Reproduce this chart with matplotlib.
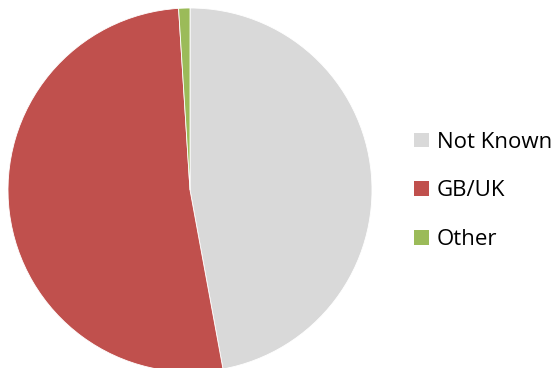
import matplotlib
matplotlib.use("Agg")
import matplotlib.pyplot as plt

labels = ["Not Known", "GB/UK", "Other"]
shares = [47.1, 51.9, 1.0]
colors = ["#D9D9D9", "#C0504D", "#9BBB59"]

W, H = 558, 368
fig = plt.figure(figsize=(W / 100, H / 100), dpi=100)
ax = fig.add_axes([0, 0, 1, 1])

wedges, _ = ax.pie(shares, colors=colors, startangle=90, counterclock=False,
                   center=(190, H - 190), radius=182, frame=True,
                   wedgeprops=dict(linewidth=0.6, edgecolor="white"))
ax.set_xlim(0, W)
ax.set_ylim(0, H)
ax.set_aspect("equal")
ax.axis("off")

leg = ax.legend(wedges, labels, loc="center left",
                bbox_to_anchor=(414 / W, 1 - 191 / H), bbox_transform=fig.transFigure,
                frameon=False, prop=dict(family="Open Sans", size=16),
                handlelength=0.66, handleheight=0.63, handletextpad=0.36,
                labelspacing=1.24, borderpad=0, borderaxespad=0)
for h in leg.legend_handles:
    h.set_linewidth(0)

fig.savefig("out.png", dpi=100)
